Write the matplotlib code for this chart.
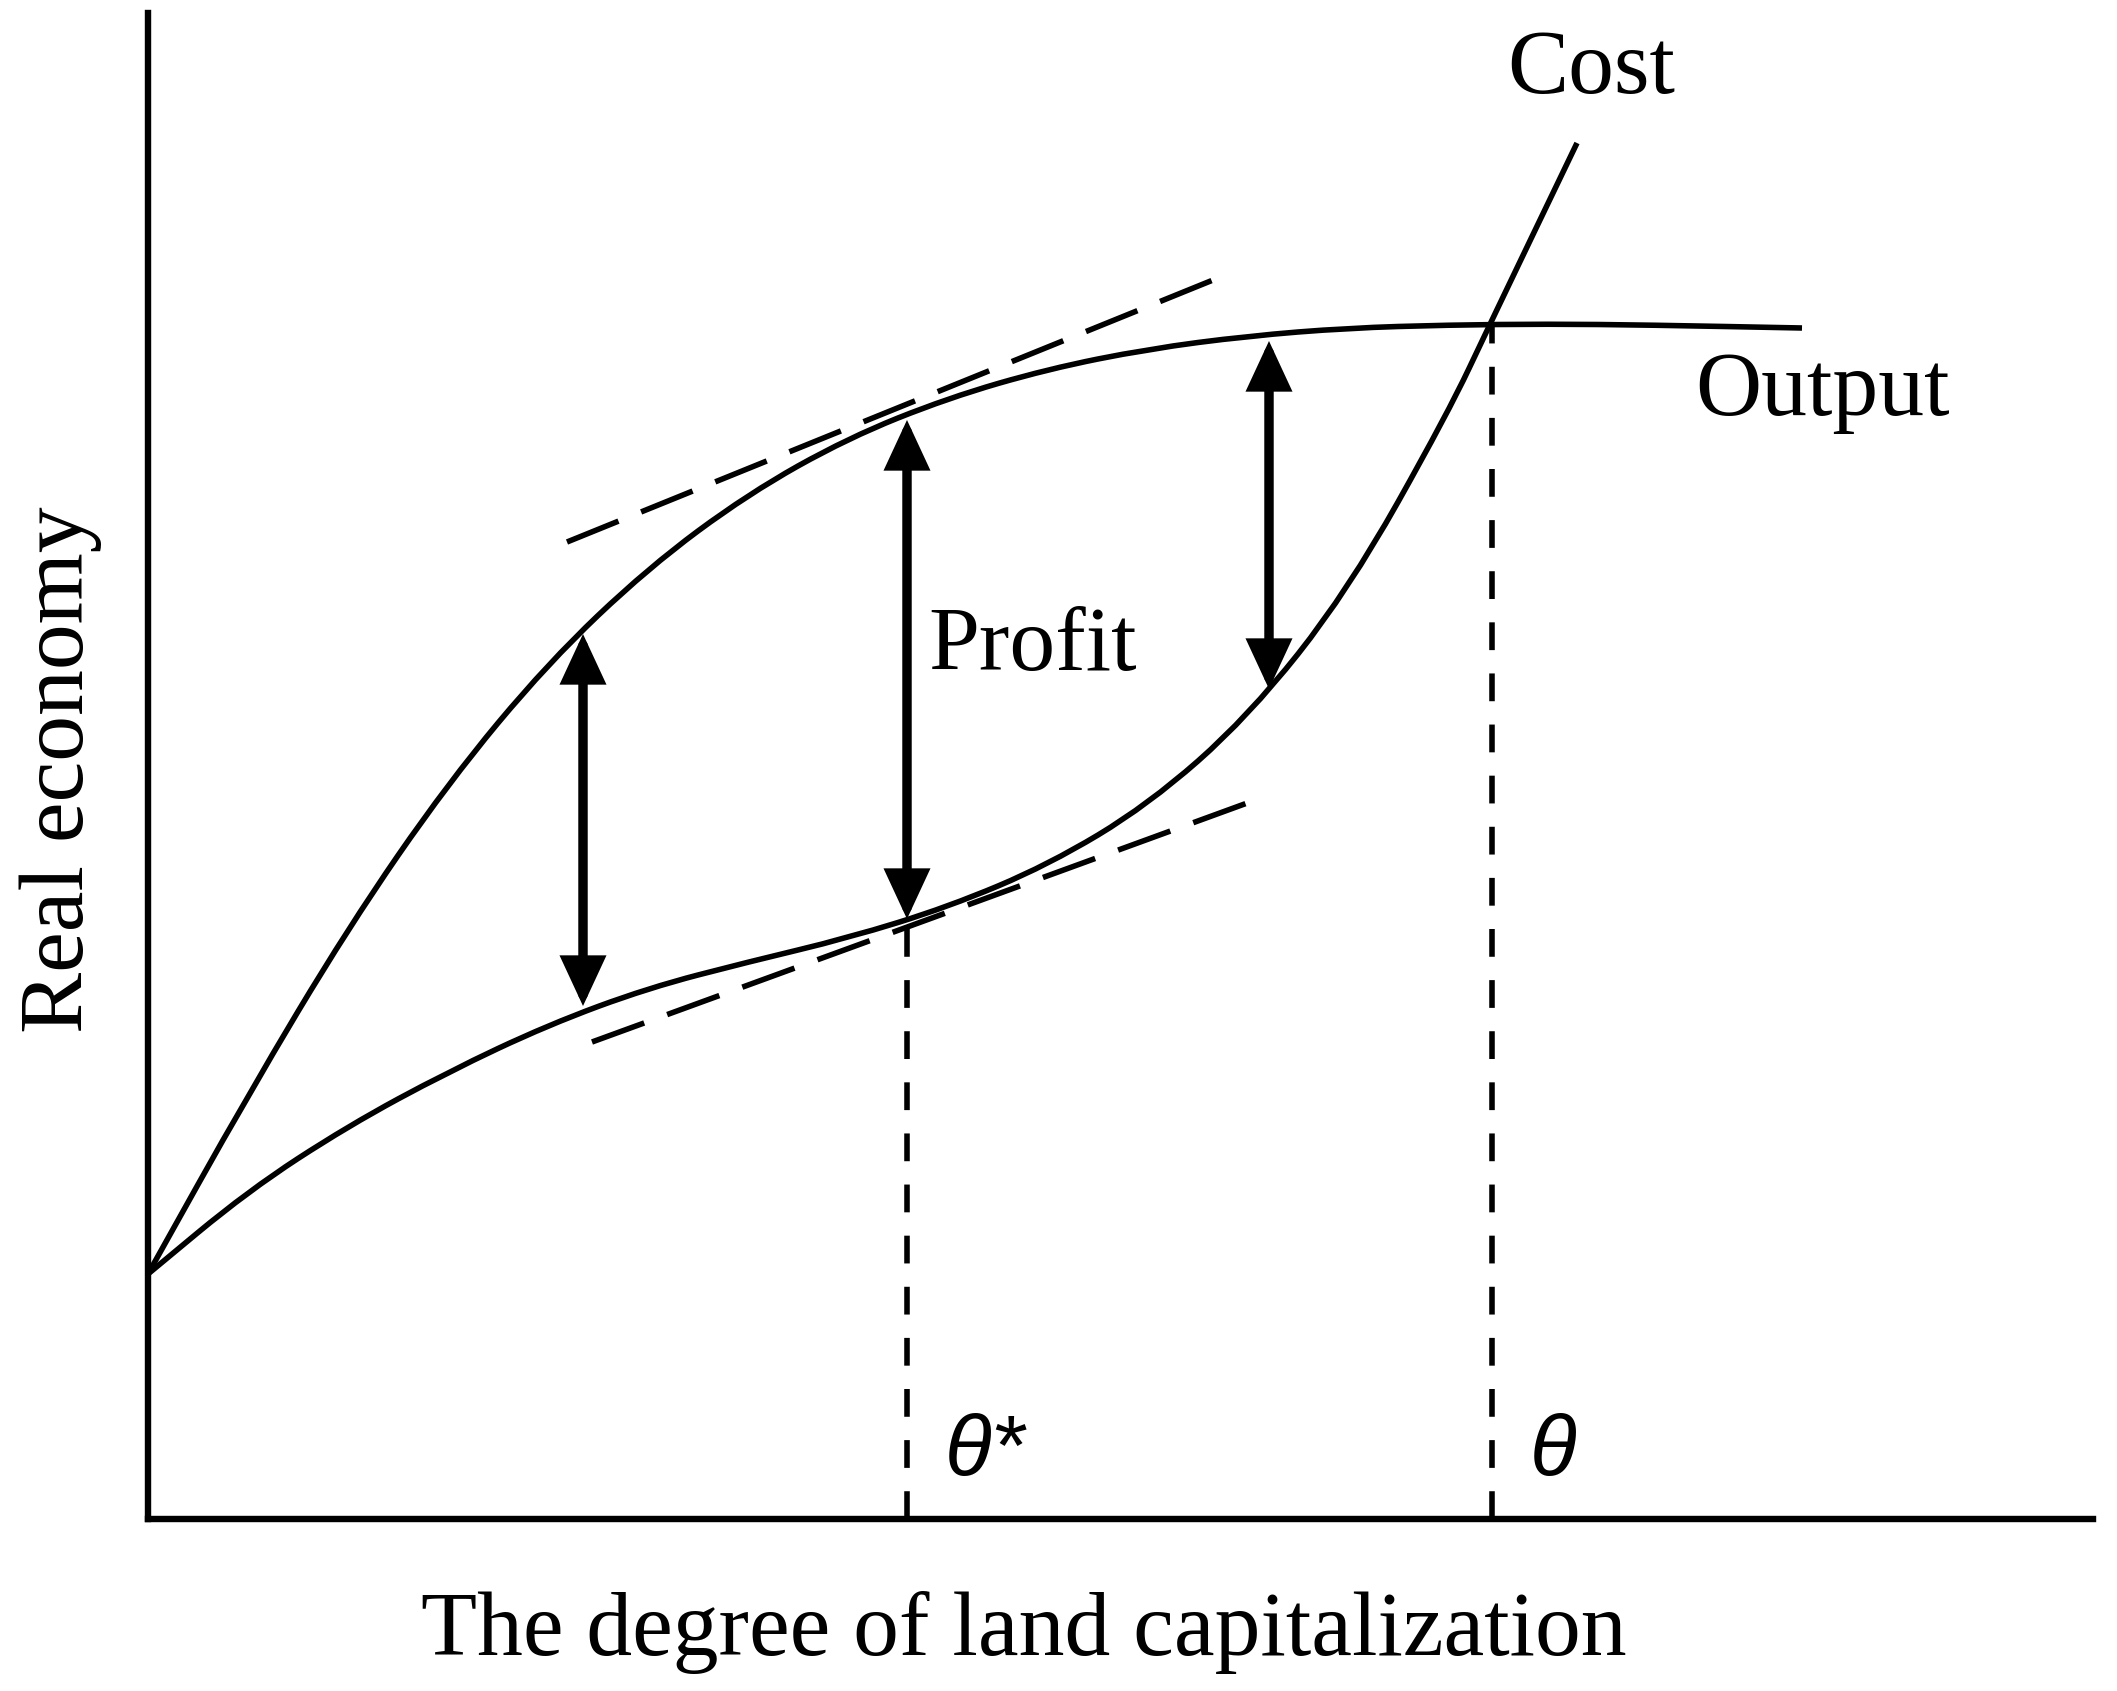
import numpy as np
import matplotlib
matplotlib.use("Agg")
import matplotlib.pyplot as plt
from matplotlib.path import Path
from matplotlib.patches import PathPatch

# ---------------- data ----------------
output_x = [0, 100, 200, 300, 400, 500, 600, 700, 800, 900, 1000, 1100,
            1200, 1300, 1400, 1500, 1654]
output_y = [245, 424, 591, 736, 856, 951, 1025, 1081, 1121, 1150, 1170, 1183,
            1191, 1194, 1195, 1194, 1191]

cost_x = [0, 100, 200, 300, 400, 500, 600, 700, 800, 900, 1000, 1100, 1200,
          1300, 1342, 1429]
cost_y = [245, 328, 393, 447, 494, 531, 557, 581, 612, 654, 714, 802, 928,
          1106, 1195, 1376]

upper_tangent_x = [419, 1070]
upper_tangent_y = [977, 1241]
lower_tangent_x = [444, 1102]
lower_tangent_y = [477, 717]

theta_star_x = 759
theta_star_top = 597
theta_x = 1344
theta_top = 1195

profit_arrow_x = [435, 759, 1121]
profit_arrow_top = [885, 1099, 1178]
profit_arrow_bottom = [513, 600, 830]

x_label = "The degree of land capitalization"
y_label = "Real economy"
xmax, ymax = 1945, 1506

# ---------------- figure ----------------
W, H, DPI = 2117, 1691, 100
fig = plt.figure(figsize=(W / DPI, H / DPI), dpi=DPI)
ax = fig.add_axes([148 / W, (H - 1519) / H, (2093 - 148) / W, (1519 - 13) / H])
ax.set_xlim(0, xmax)
ax.set_ylim(0, ymax)
for s in ["top", "right"]:
    ax.spines[s].set_visible(False)
for s in ["left", "bottom"]:
    ax.spines[s].set_linewidth(4.6)
    ax.spines[s].set_color("black")
ax.set_xticks([])
ax.set_yticks([])

serif = "Liberation Serif"
FS = 66
LW = 4.0


def smooth_curve(xs, ys, **kw):
    pts = list(zip(xs, ys))
    verts = [pts[0]]
    codes = [Path.MOVETO]
    mid = lambda a, b: ((a[0] + b[0]) / 2, (a[1] + b[1]) / 2)
    verts.append(mid(pts[0], pts[1]))
    codes.append(Path.LINETO)
    for i in range(1, len(pts) - 1):
        verts += [pts[i], mid(pts[i], pts[i + 1])]
        codes += [Path.CURVE3, Path.CURVE3]
    verts.append(pts[-1])
    codes.append(Path.LINETO)
    patch = PathPatch(Path(verts, codes), fill=False, transform=ax.transData,
                      clip_on=False, **kw)
    ax.add_patch(patch)


smooth_curve(output_x, output_y, lw=LW, edgecolor="black", capstyle="butt")
smooth_curve(cost_x, cost_y, lw=LW, edgecolor="black", capstyle="butt")

# tangent lines
for tx, ty in [(upper_tangent_x, upper_tangent_y), (lower_tangent_x, lower_tangent_y)]:
    ax.plot(tx, ty, color="black", lw=LW, linestyle=(0, (10, 4.4)),
            dash_capstyle="butt", clip_on=False)

# vertical dashed lines
for vx, vt in [(theta_star_x, theta_star_top), (theta_x, theta_top)]:
    ax.plot([vx, vx], [0, vt], color="black", lw=4.0,
            linestyle=(0, (5.0, 4.2)), dash_capstyle="butt")

# profit arrows
for xa, yt, yb in zip(profit_arrow_x, profit_arrow_top, profit_arrow_bottom):
    ax.annotate("", xy=(xa, yt), xytext=(xa, yb),
                arrowprops=dict(arrowstyle="<|-|>,head_length=1.25,head_width=0.58",
                                lw=6.8, color="black", shrinkA=0, shrinkB=0,
                                mutation_scale=20, joinstyle="miter"))

# labels
ax.text(1359, 1426, "Cost", family=serif, fontsize=FS, ha="left", va="baseline")
ax.text(1547, 1104, "Output", family=serif, fontsize=FS, ha="left", va="baseline")
ax.text(780, 849, "Profit", family=serif, fontsize=FS, ha="left", va="baseline")
ax.text(797, 44, "θ*", family="Liberation Sans", style="italic", fontsize=62,
        ha="left", va="baseline")
ax.text(1382, 44, "θ", family="Liberation Sans", style="italic", fontsize=62,
        ha="left", va="baseline")

ax.text(876, -136, x_label, family=serif, fontsize=FS, ha="center",
        va="baseline", clip_on=False)
ax.text(-87, 749, y_label, family=serif, fontsize=FS, ha="center",
        va="center", rotation=90, clip_on=False)

fig.savefig("out.png", dpi=DPI, facecolor="white")
